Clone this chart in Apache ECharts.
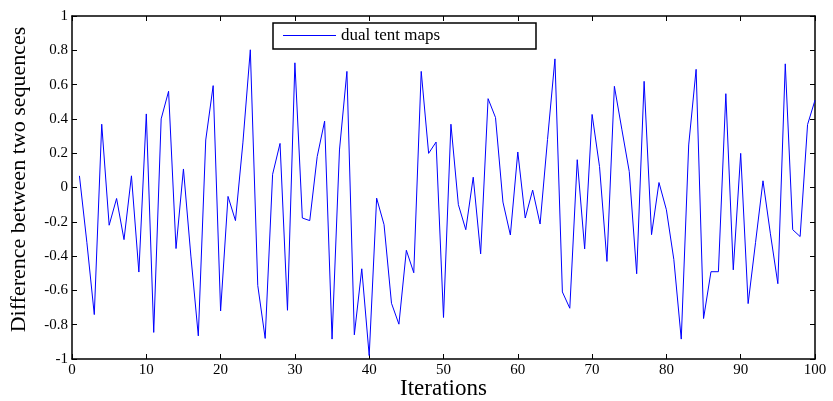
<!DOCTYPE html>
<html>
<head>
<meta charset="utf-8">
<script src="https://cdn.jsdelivr.net/npm/echarts@6/dist/echarts.min.js"></script>
<style>
  html, body { margin: 0; padding: 0; background: #fff; }
  #chart { width: 833px; height: 401px; }
</style>
</head>
<body>
<div id="chart"></div>
<script>
// Iteration index (1..100)
const iterations = Array.from({ length: 100 }, (_, i) => i + 1);

// Difference between the two chaotic sequences at each iteration
const differences = [
  0.068, -0.32, -0.741, 0.369, -0.22, -0.064, -0.304, 0.068, -0.493, 0.429,
  -0.845, 0.40, 0.561, -0.356, 0.108, -0.40, -0.865, 0.277, 0.594, -0.72,
  -0.052, -0.193, 0.26, 0.803, -0.571, -0.88, 0.077, 0.257, -0.716, 0.727,
  -0.178, -0.193, 0.18, 0.387, -0.884, 0.219, 0.677, -0.859, -0.474, -0.98,
  -0.062, -0.217, -0.675, -0.797, -0.366, -0.497, 0.677, 0.199, 0.265, -0.758,
  0.369, -0.10, -0.246, 0.06, -0.387, 0.518, 0.408, -0.085, -0.277, 0.207,
  -0.178, -0.015, -0.213, 0.28, 0.75, -0.609, -0.704, 0.162, -0.358, 0.426,
  0.122, -0.431, 0.59, 0.34, 0.093, -0.503, 0.619, -0.275, 0.029, -0.13,
  -0.42, -0.884, 0.248, 0.689, -0.764, -0.491, -0.491, 0.547, -0.48, 0.199,
  -0.677, -0.32, 0.039, -0.27, -0.561, 0.721, -0.246, -0.286, 0.367, 0.509
];

const seriesName = 'dual tent maps';
const xTicks = [0, 10, 20, 30, 40, 50, 60, 70, 80, 90, 100];
const yTicks = [-1, -0.8, -0.6, -0.4, -0.2, 0, 0.2, 0.4, 0.6, 0.8, 1];

const font = 'Liberation Serif, Times New Roman, serif';

const chart = echarts.init(document.getElementById('chart'));

const frameLine = { show: true, onZero: false, lineStyle: { color: '#000', width: 1.5 } };
const innerTick = { show: true, inside: true, length: 5, lineStyle: { color: '#000', width: 1 } };

chart.setOption({
  animation: false,
  backgroundColor: '#fff',
  grid: { left: 72, right: 18, top: 16, bottom: 42, containLabel: false, outerBoundsMode: 'none' },
  graphic: [
    {
      type: 'rect',
      shape: { x: 273, y: 23, width: 263, height: 26 },
      style: { fill: '#fff', stroke: '#000', lineWidth: 1.5 },
      z: 10
    }
  ],
  legend: {
    data: [seriesName],
    left: 283,
    top: 27,
    itemWidth: 53,
    itemHeight: 17,
    itemGap: 6,
    padding: 0,
    z: 11,
    icon: 'path://M0,8 L53,8 L53,9 L0,9 Z',
    textStyle: { fontFamily: font, fontSize: 17, color: '#000' }
  },
  xAxis: [
    {
      type: 'value',
      min: 0, max: 100, interval: 10,
      name: 'Iterations',
      nameLocation: 'middle',
      nameGap: 18,
      nameMoveOverlap: false,
      nameTextStyle: { fontFamily: font, fontSize: 23, color: '#000' },
      axisLine: frameLine,
      axisTick: innerTick,
      axisLabel: { fontFamily: font, fontSize: 15, color: '#000', margin: 4,
        formatter: v => xTicks.includes(v) ? String(v) : '' },
      splitLine: { show: false }
    },
    {
      type: 'value', position: 'top',
      min: 0, max: 100, interval: 10,
      axisLine: frameLine, axisTick: innerTick,
      axisLabel: { show: false }, splitLine: { show: false }
    }
  ],
  yAxis: [
    {
      type: 'value',
      min: -1, max: 1, interval: 0.2,
      name: 'Difference between two sequences',
      nameLocation: 'middle',
      nameGap: 42,
      nameMoveOverlap: false,
      nameTextStyle: { fontFamily: font, fontSize: 22, color: '#000', padding: [0, 0, 0, 16] },
      axisLine: frameLine,
      axisTick: innerTick,
      axisLabel: { fontFamily: font, fontSize: 15, color: '#000', margin: 4,
        formatter: v => {
          const r = Math.round(v * 10) / 10;
          return yTicks.includes(r) ? String(r) : '';
        } },
      splitLine: { show: false }
    },
    {
      type: 'value', position: 'right',
      min: -1, max: 1, interval: 0.2,
      axisLine: frameLine, axisTick: innerTick,
      axisLabel: { show: false }, splitLine: { show: false }
    }
  ],
  series: [
    {
      name: seriesName,
      type: 'line',
      data: iterations.map((x, i) => [x, differences[i]]),
      showSymbol: false,
      symbol: 'none',
      lineStyle: { color: '#0000ff', width: 1 },
      itemStyle: { color: '#0000ff' }
    }
  ]
});
</script>
</body>
</html>
